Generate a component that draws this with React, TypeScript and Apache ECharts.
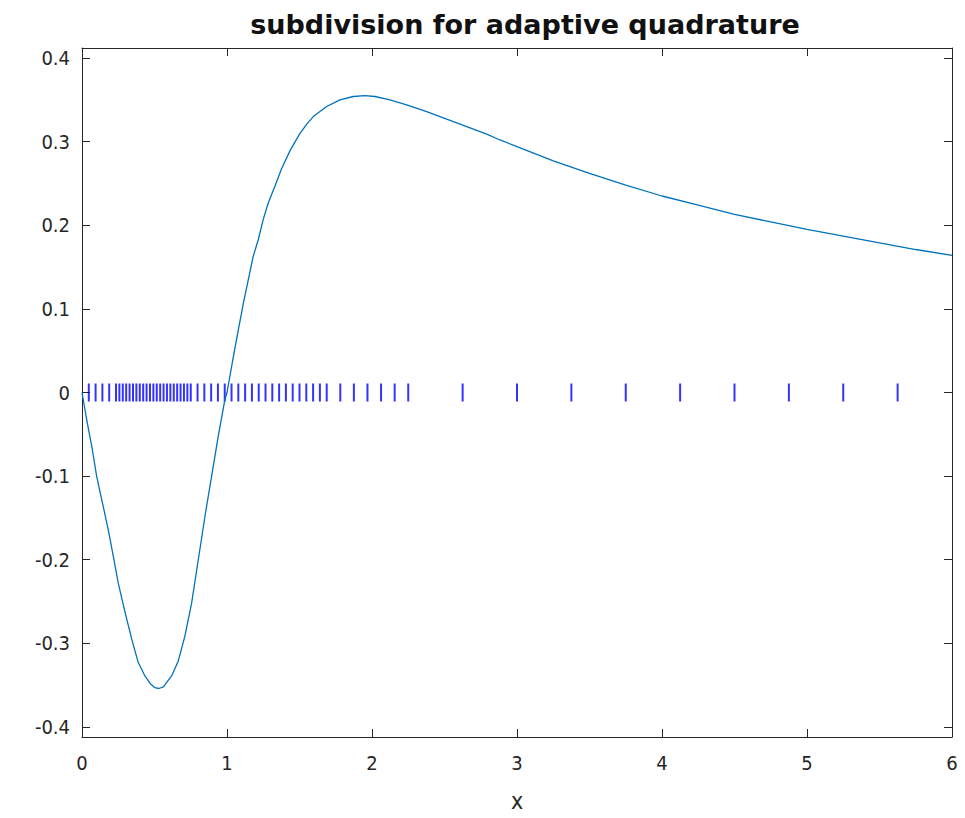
import React, { useEffect, useRef } from "react";
import * as echarts from "echarts";

const curveX = [
  0, 0.032, 0.067, 0.101, 0.136, 0.181, 0.216, 0.25, 0.297, 0.343, 0.388, 0.434,
  0.47, 0.503, 0.53, 0.561, 0.618, 0.664, 0.71, 0.756, 0.802, 0.848, 0.894, 0.94,
  0.986, 1.0, 1.044, 1.078, 1.113, 1.147, 1.181, 1.216, 1.25, 1.285, 1.331, 1.377,
  1.434, 1.5, 1.55, 1.595, 1.687, 1.779, 1.871, 1.95, 2.021, 2.124, 2.239, 2.377, 2.515,
  2.653, 2.791, 2.883, 3.0, 3.25, 3.5, 3.75, 4.0, 4.25, 4.5, 4.75, 5.0, 5.25, 5.5, 5.75, 6.0,
];
const curveY = [
  0, -0.032, -0.064, -0.1, -0.128, -0.164, -0.196, -0.228, -0.263, -0.295, -0.323, -0.339,
  -0.348, -0.353, -0.354, -0.352, -0.339, -0.321, -0.291, -0.252, -0.2, -0.148, -0.1, -0.052,
  -0.008, 0, 0.043, 0.075, 0.107, 0.135, 0.163, 0.183, 0.207, 0.227, 0.247, 0.268,
  0.289, 0.309, 0.321, 0.33, 0.342, 0.35, 0.354, 0.355, 0.354, 0.35, 0.344, 0.336, 0.327,
  0.318, 0.309, 0.302, 0.294, 0.277, 0.262, 0.248, 0.235, 0.224, 0.213, 0.204, 0.195, 0.187, 0.179, 0.171, 0.164,
];

const subdivisionX = [
  0.046875, 0.09375, 0.140625, 0.1875, 0.234375,
  0.2578, 0.28125, 0.3047, 0.3281, 0.3516, 0.375, 0.3984, 0.4219, 0.4453, 0.46875,
  0.4922, 0.5156, 0.5391, 0.5625, 0.5859, 0.6094, 0.6328, 0.6563, 0.6797, 0.7031,
  0.7266, 0.75,
  0.796875, 0.84375, 0.890625, 0.9375, 0.984375, 1.03125, 1.078125, 1.125, 1.171875,
  1.21875, 1.265625, 1.3125, 1.359375, 1.40625, 1.453125, 1.5, 1.546875, 1.59375,
  1.640625, 1.6875,
  1.78125, 1.875, 1.96875, 2.0625, 2.15625, 2.25,
  2.625, 3.0, 3.375, 3.75, 4.125, 4.5, 4.875, 5.25, 5.625,
];

const xTicks = [0, 1, 2, 3, 4, 5, 6];

const axisColor = "#262626";
const font = "DejaVu Sans";
const labelFont = "'DejaVu Sans Condensed', 'DejaVu Sans'";

export default function App() {
  const ref = useRef<HTMLDivElement>(null);
  useEffect(() => {
    if (!ref.current) return;
    const chart = echarts.init(ref.current, null, { renderer: "svg" });
    const axisCommon = {
      axisLine: { show: true, onZero: false, lineStyle: { color: axisColor, width: 1 } },
      axisTick: { show: true, inside: true, length: 8, lineStyle: { color: axisColor } },
      splitLine: { show: false },
    };
    chart.setOption({
      animation: false,
      backgroundColor: "#ffffff",
      title: {
        text: "subdivision for adaptive quadrature",
        left: 520,
        textAlign: "center",
        top: 6,
        textStyle: { fontFamily: font, fontSize: 27, fontWeight: "bold", color: "#111" },
      },
      grid: { left: 82, right: 13, top: 48, bottom: 81, containLabel: false },
      xAxis: [
        {
          type: "value",
          min: xTicks[0],
          max: xTicks[xTicks.length - 1],
          interval: 1,
          position: "bottom",
          name: "x",
          nameLocation: "middle",
          nameGap: 52,
          nameTextStyle: { fontFamily: labelFont, fontSize: 23, color: axisColor },
          ...axisCommon,
          axisLabel: { fontFamily: labelFont, fontSize: 20, color: axisColor, margin: 16 },
        },
        {
          type: "value",
          min: 0,
          max: 6,
          interval: 1,
          position: "top",
          ...axisCommon,
          axisLabel: { show: false },
        },
      ],
      yAxis: [
        {
          type: "value",
          min: -0.412,
          max: 0.412,
          splitNumber: 8,
          position: "left",
          ...axisCommon,
          axisLabel: {
            fontFamily: labelFont,
            fontSize: 20,
            color: axisColor,
            margin: 12,
            showMinLabel: false,
            showMaxLabel: false,
            formatter: (v: number) => (Math.abs(v) < 1e-9 ? "0" : v.toFixed(1)),
          },
        },
        {
          type: "value",
          min: -0.412,
          max: 0.412,
          splitNumber: 8,
          position: "right",
          ...axisCommon,
          axisLabel: { show: false },
        },
      ],
      series: [
        {
          type: "line",
          data: curveX.map((x, i) => [x, curveY[i]]),
          showSymbol: false,
          symbol: "none",
          lineStyle: { color: "#0072bd", width: 1.3 },
          clip: true,
          z: 3,
        },
        {
          type: "scatter",
          data: subdivisionX.map((x) => [x, 0]),
          symbol: "rect",
          symbolSize: [2, 18],
          itemStyle: { color: "#0000ff" },
          z: 2,
        },
      ],
    });
    return () => chart.dispose();
  }, []);
  return (
    <div
      ref={ref}
      style={{ position: "fixed", left: 0, top: 0, width: 965, height: 818, background: "#fff" }}
    />
  );
}
